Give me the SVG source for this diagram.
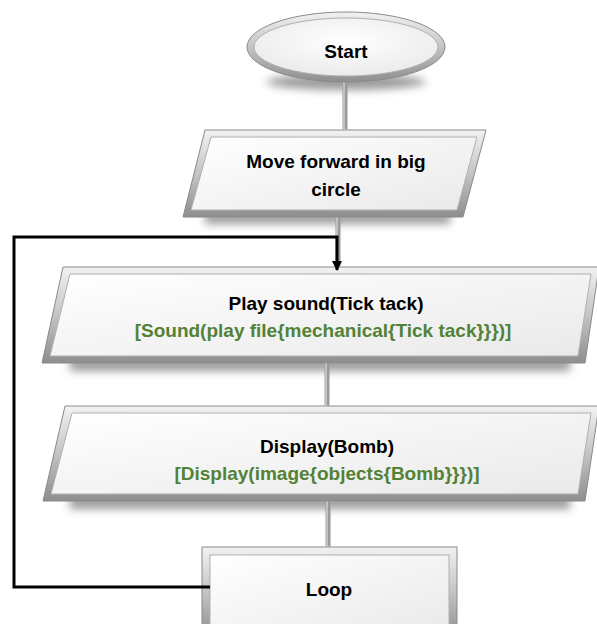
<svg xmlns="http://www.w3.org/2000/svg" width="597" height="624" viewBox="0 0 597 624">
<defs>
<linearGradient id="bevel" x1="0" y1="0" x2="0" y2="1">
<stop offset="0" stop-color="#f2f2f2"/>
<stop offset="0.5" stop-color="#c4c4c4"/>
<stop offset="1" stop-color="#8e8e8e"/>
</linearGradient>
<linearGradient id="face" x1="0" y1="0" x2="1" y2="1">
<stop offset="0" stop-color="#ffffff"/>
<stop offset="1" stop-color="#e9e9e9"/>
</linearGradient>
<radialGradient id="efface" cx="0.5" cy="0.4" r="0.6">
<stop offset="0" stop-color="#ffffff"/>
<stop offset="1" stop-color="#ebebeb"/>
</radialGradient>
<filter id="blur" x="-20%" y="-100%" width="140%" height="300%">
<feGaussianBlur stdDeviation="4"/>
</filter>
<marker id="arrow" markerWidth="10" markerHeight="10" refX="9" refY="5" orient="auto" markerUnits="userSpaceOnUse" viewBox="0 0 10 10">
<path d="M0,0 L10,5 L0,10 Z" fill="#000"/>
</marker>
</defs>
<style>
.shadow{fill:#4a4a4a;opacity:0.55;filter:url(#blur)}
.outer{fill:url(#bevel);stroke:#8a8a8a;stroke-width:1}
.inner{fill:url(#face);stroke:#b0b0b0;stroke-width:1}
.pipe{stroke:#9a9a9a;stroke-width:5;fill:none}
.pipehi{stroke:#cfcfcf;stroke-width:1.5;fill:none}
.t{font-family:"Liberation Sans",Arial,sans-serif;font-weight:bold;font-size:19px;fill:#000;text-anchor:middle}
.g{fill:#538135}
.loop{stroke:#000;stroke-width:3;fill:none}
</style>
<rect width="597" height="624" fill="#ffffff"/>

<g id="start">
<ellipse class="shadow" cx="346" cy="82" rx="80" ry="8"/>
<ellipse class="outer" cx="346" cy="47" rx="99" ry="35"/>
<ellipse cx="346" cy="47" rx="92" ry="29" fill="url(#efface)" stroke="#b0b0b0"/>
<text class="t" x="346" y="58" font-size="20">Start</text>
</g>

<g id="move">
<rect class="shadow" x="205" y="212" width="245" height="12"/>
<polygon class="outer" points="205,130 486,130 463,217 183,217"/>
<polygon class="inner" points="211,137 477,137 457,210 191,210"/>
<text class="t" x="336" y="168">Move forward in big</text>
<text class="t" x="336" y="196">circle</text>
</g>

<g id="play">
<rect class="shadow" x="70" y="358" width="500" height="13"/>
<polygon class="outer" points="63,267 599,267 585,363 42,363"/>
<polygon class="inner" points="70,274 591,274 578,356 50,356"/>
<text class="t" x="326" y="310">Play sound(Tick tack)</text>
<text class="t g" x="323" y="337">[Sound(play file{mechanical{Tick tack}}})]</text>
</g>

<g id="display">
<rect class="shadow" x="70" y="496" width="500" height="13"/>
<polygon class="outer" points="65,406 599,406 585,501 43,501"/>
<polygon class="inner" points="72,413 591,413 578,494 51,494"/>
<text class="t" x="327" y="453">Display(Bomb)</text>
<text class="t g" x="327" y="480">[Display(image{objects{Bomb}}})]</text>
</g>

<g id="loop">
<rect class="outer" x="202" y="547" width="255" height="90"/>
<rect class="inner" x="210" y="555" width="239" height="80"/>
<text class="t" x="329" y="596">Loop</text>
</g>

<g id="connectors">
<line class="pipe" x1="345" y1="82.5" x2="345" y2="129.5"/>
<line class="pipehi" x1="344" y1="82.5" x2="344" y2="129.5"/>
<line class="pipe" x1="338" y1="217.5" x2="338" y2="266.5"/>
<line class="pipehi" x1="337" y1="217.5" x2="337" y2="266.5"/>
<line class="pipe" x1="327" y1="363.5" x2="327" y2="405.5"/>
<line class="pipehi" x1="326" y1="363.5" x2="326" y2="405.5"/>
<line class="pipe" x1="328" y1="501.5" x2="328" y2="546.5"/>
<line class="pipehi" x1="327" y1="501.5" x2="327" y2="546.5"/>
<path class="loop" d="M210,587 H14 V237 H337 V270" marker-end="url(#arrow)"/>
</g>
</svg>
